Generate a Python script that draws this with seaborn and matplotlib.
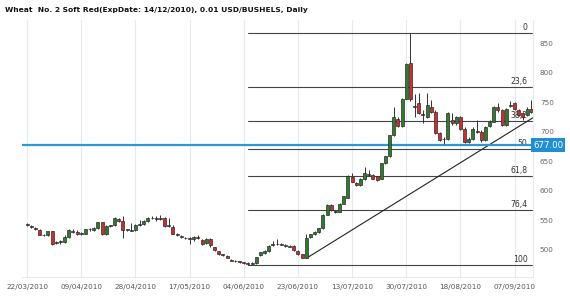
import matplotlib
matplotlib.use("Agg")
import matplotlib.pyplot as plt
import seaborn as sns
import pandas as pd

# ---------------- data ----------------
title = "Wheat  No. 2 Soft Red(ExpDate: 14/12/2010), 0.01 USD/BUSHELS, Daily"
tick_labels = ["22/03/2010", "09/04/2010", "28/04/2010", "17/05/2010", "04/06/2010",
               "23/06/2010", "13/07/2010", "30/07/2010", "18/08/2010", "07/09/2010"]
bars_per_tick = 13

opens = [543, 540, 537, 533, 525, 524, 531, 511, 513, 513, 522, 532, 530, 527, 527, 534, 533, 536, 546, 526,
         540, 541, 552, 549, 533, 532, 533, 542, 543, 548, 554, 553, 552, 553, 540, 539, 527, 523, 520, 519,
         517, 521, 516, 511, 517, 504, 497, 492, 489, 483, 481, 480, 478, 477, 476,
         477, 490, 494, 497, 507, 509, 509, 508, 506, 506, 498, 492,
         486, 521, 526, 529, 536, 559, 575, 566, 564, 578, 588, 623, 613, 609, 619, 628, 627, 624, 620, 646,
         658, 694, 722, 709, 756, 816,
         742, 748, 729, 725, 741, 734, 698, 687, 688, 720, 714, 725, 705, 683, 688, 701, 700, 686, 709, 717,
         742, 736, 711, 743, 748, 736, 731, 728, 739]
highs = [545, 541, 538, 534, 527, 532, 532, 515, 516, 524, 535, 534, 533, 529, 535, 536, 538, 547, 547, 542,
         542, 555, 553, 557, 535, 545, 543, 550, 550, 555, 556, 556, 559, 555, 553, 541, 528, 524, 522, 521,
         523, 524, 518, 519, 519, 505, 498, 493, 490, 484, 483, 481, 479, 478, 479,
         488, 496, 499, 508, 514, 517, 511, 510, 507, 507, 499, 493,
         527, 527, 531, 537, 560, 578, 577, 567, 579, 591, 626, 629, 614, 621, 640, 635, 628, 625, 647, 659,
         695, 742, 724, 757, 816, 868,
         764, 765, 736, 765, 754, 736, 700, 690, 733, 732, 727, 727, 707, 690, 707, 720, 702, 710, 719, 744,
         748, 738, 740, 752, 750, 738, 733, 741, 753]
lows = [540, 536, 533, 524, 523, 523, 508, 509, 510, 511, 520, 528, 525, 525, 526, 532, 532, 535, 524, 525,
        538, 540, 547, 520, 531, 531, 532, 540, 542, 546, 552, 549, 550, 538, 538, 526, 523, 519, 517, 510,
        515, 517, 508, 510, 505, 497, 491, 489, 485, 480, 478, 477, 476, 474, 475,
        476, 489, 493, 496, 506, 507, 507, 505, 504, 498, 491, 485,
        485, 520, 525, 528, 535, 558, 566, 562, 563, 577, 587, 614, 607, 608, 618, 625, 619, 617, 619, 645,
        657, 693, 708, 708, 755, 752,
        725, 729, 714, 723, 732, 696, 684, 679, 686, 712, 712, 703, 681, 681, 686, 698, 683, 684, 707, 716,
        734, 709, 709, 741, 737, 726, 719, 726, 732]
closes = [541, 538, 534, 525, 524, 531, 510, 513, 514, 522, 533, 530, 527, 527, 534, 534, 537, 546, 526, 540,
          541, 553, 549, 533, 533, 533, 542, 543, 549, 554, 553, 551, 554, 540, 540, 527, 524, 521, 519, 517,
          521, 519, 510, 517, 507, 499, 493, 490, 486, 481, 480, 478, 477, 475, 477,
          487, 495, 498, 506, 509, 510, 508, 506, 505, 499, 492, 486,
          519, 526, 530, 536, 558, 576, 567, 564, 578, 590, 625, 615, 610, 619, 629, 627, 620, 618, 646, 658,
          694, 725, 709, 756, 815, 756,
          744, 731, 728, 745, 734, 698, 686, 688, 731, 714, 725, 705, 683, 688, 705, 700, 686, 708, 717, 742,
          736, 711, 738, 745, 739, 728, 725, 739, 734]

fib_high = 868
fib_low = 474
fib_start_bar = 53
fib_levels = [0, 23.6, 38.2, 50, 61.8, 76.4, 100]
fib_labels = ["0", "23,6", "38,2", "50", "61,8", "76,4", "100"]
price_level = 677.00
trend_bars = [67, 121.4]
trend_prices = [485, 723.5]
y_ticks = [500, 550, 600, 650, 700, 750, 800, 850]

# ---------------- figure ----------------
sns.set_theme(style="white")
plt.rcParams['font.family'] = ['DejaVu Sans']

df = pd.DataFrame({"open": opens, "high": highs, "low": lows, "close": closes})
df["bar"] = range(len(df))
df["up"] = df["close"] >= df["open"]

fig = plt.figure(figsize=(5.70, 2.96), dpi=100)
ax = fig.add_axes([0.0386, 0.0642, 0.935 - 0.0386, 0.932 - 0.0642])

n = len(df)
ax.set_xlim(-1.2, n - 0.6)
ax.set_ylim(453.4, 889)

# vertical grid
tick_pos = [i * bars_per_tick for i in range(len(tick_labels))]
for tp in tick_pos:
    ax.axvline(tp, color="#e3ebf1", lw=0.8, zorder=0)

# fib lines
x_end = n - 0.6
rng = fib_high - fib_low
for lev, lab in zip(fib_levels, fib_labels):
    val = fib_high - rng * lev / 100.0
    ax.plot([fib_start_bar, x_end - 0.3], [val, val], color="#444444", lw=0.8, zorder=1)
    ax.text(x_end - 1.3, val + 1.5, lab, ha="right", va="bottom", fontsize=5.6,
            color="#333333", zorder=1)

# trend line
sns.lineplot(x=trend_bars, y=trend_prices, ax=ax, color="#222222", lw=0.8, zorder=2,
             legend=False)

# blue price level
ax.axhline(price_level, color="#2a9ad6", lw=1.6, zorder=2)

# candles
colors = ["#2a7f2a" if u else "#d42a2a" for u in df["up"]]
ax.vlines(df["bar"], df["low"], df["high"], color="#333333", lw=0.7, zorder=3)
bottoms = df[["open", "close"]].min(axis=1)
heights = (df["close"] - df["open"]).abs().clip(lower=1.0)
ax.bar(df["bar"], heights, bottom=bottoms, width=0.72, color=colors,
       edgecolor="#2b2b2b", linewidth=0.5, zorder=4)

# axes styling
for s in ["left", "top"]:
    ax.spines[s].set_visible(False)
ax.spines["right"].set_color("#e3ebf1")
ax.spines["bottom"].set_color("#e3ebf1")
ax.spines["right"].set_linewidth(0.8)
ax.spines["bottom"].set_linewidth(0.8)

ax.yaxis.tick_right()
ax.set_yticks(y_ticks)
ax.set_yticklabels([str(v) for v in y_ticks])
ax.tick_params(axis="y", length=0, pad=5, labelsize=5.2, labelcolor="#666666")
ax.set_xticks(tick_pos)
ax.set_xticklabels(tick_labels)
ax.tick_params(axis="x", length=0, pad=5, labelsize=5.2, labelcolor="#555555")
ax.grid(False)

# price label box
ax.text(1.0, price_level, "677.00", transform=ax.get_yaxis_transform(),
        ha="left", va="center", fontsize=6.2, color="white", zorder=6,
        bbox=dict(boxstyle="square,pad=0.25", fc="#1e8fd5", ec="none"),
        clip_on=False)

fig.text(5 / 570, 1 - 10 / 296, title, ha="left", va="center", fontsize=5.4,
         fontweight="bold", color="#111111")

fig.savefig("out.png", dpi=100, facecolor="white")
